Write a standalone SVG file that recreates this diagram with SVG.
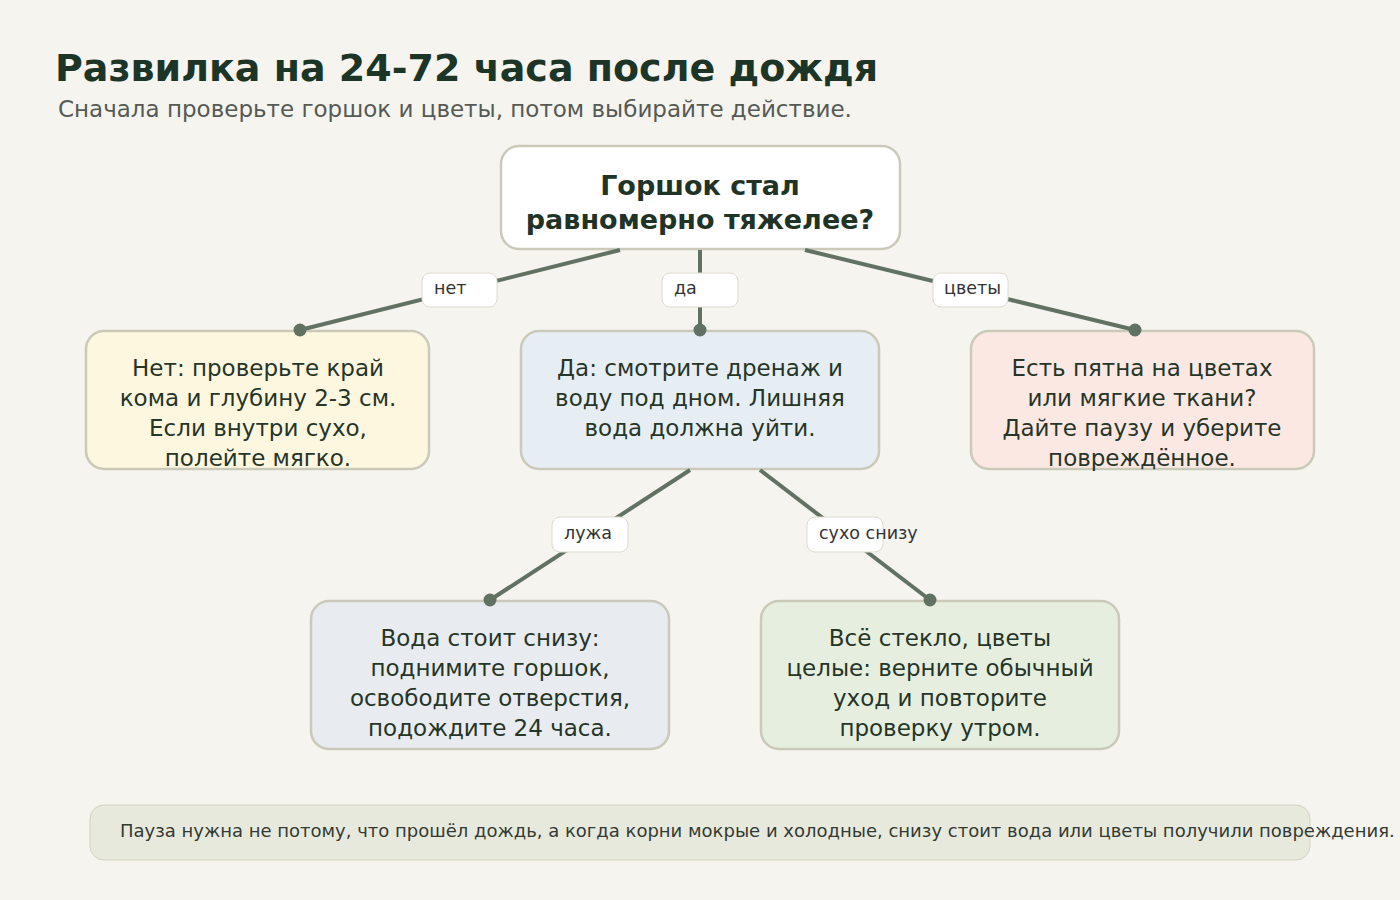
<svg xmlns="http://www.w3.org/2000/svg" width="1400" height="900" viewBox="0 0 1400 900">
<defs>
<style>
.bg{fill:#f5f4ee}
.title{font-family:"DejaVu Sans",sans-serif;font-weight:bold;font-size:38px;fill:#1c3527}
.sub{font-family:"DejaVu Sans",sans-serif;font-size:23px;fill:#555a55}
.node{stroke:#cbc9ba;stroke-width:2.5}
.nt{font-family:"DejaVu Sans",sans-serif;font-size:23px;fill:#253528;text-anchor:middle}
.rt{font-family:"DejaVu Sans",sans-serif;font-size:27px;font-weight:bold;fill:#1f3327;text-anchor:middle}
.edge{stroke:#627262;stroke-width:4;fill:none}
.dot{fill:#627262}
.lb{fill:#ffffff;stroke:#dedcd0;stroke-width:1}
.lt{font-family:"DejaVu Sans",sans-serif;font-size:17.5px;fill:#333}
.foot{fill:#e8e9dd;stroke:#d3d3c3;stroke-width:1}
.ft{font-family:"DejaVu Sans",sans-serif;font-size:18px;fill:#333a33}
</style>
</defs>
<rect class="bg" x="0" y="0" width="1400" height="900"/>
<text class="title" x="55" y="81">Развилка на 24-72 часа после дождя</text>
<text class="sub" x="58" y="117">Сначала проверьте горшок и цветы, потом выбирайте действие.</text>

<g id="root">
<rect class="node" x="501" y="146" width="399" height="103" rx="18" fill="#ffffff"/>
<text class="rt" x="700" y="195">Горшок стал</text>
<text class="rt" x="700" y="229">равномерно тяжелее?</text>
</g>

<g id="no">
<rect class="node" x="86" y="331" width="343" height="138" rx="18" fill="#fdf7df"/>
<text class="nt" x="258" y="376">Нет: проверьте край</text>
<text class="nt" x="258" y="406">кома и глубину 2-3 см.</text>
<text class="nt" x="258" y="436">Если внутри сухо,</text>
<text class="nt" x="258" y="466">полейте мягко.</text>
</g>

<g id="yes">
<rect class="node" x="521" y="331" width="358" height="138" rx="18" fill="#e6eef4"/>
<text class="nt" x="700" y="376">Да: смотрите дренаж и</text>
<text class="nt" x="700" y="406">воду под дном. Лишняя</text>
<text class="nt" x="700" y="436">вода должна уйти.</text>
</g>

<g id="flowers">
<rect class="node" x="971" y="331" width="343" height="138" rx="18" fill="#fce8e3"/>
<text class="nt" x="1142" y="376">Есть пятна на цветах</text>
<text class="nt" x="1142" y="406">или мягкие ткани?</text>
<text class="nt" x="1142" y="436">Дайте паузу и уберите</text>
<text class="nt" x="1142" y="466">повреждённое.</text>
</g>

<g id="puddle">
<rect class="node" x="311" y="601" width="358" height="148" rx="18" fill="#e8ebef"/>
<text class="nt" x="490" y="646">Вода стоит снизу:</text>
<text class="nt" x="490" y="676">поднимите горшок,</text>
<text class="nt" x="490" y="706">освободите отверстия,</text>
<text class="nt" x="490" y="736">подождите 24 часа.</text>
</g>

<g id="dry">
<rect class="node" x="761" y="601" width="358" height="148" rx="18" fill="#e6efdf"/>
<text class="nt" x="940" y="646">Всё стекло, цветы</text>
<text class="nt" x="940" y="676">целые: верните обычный</text>
<text class="nt" x="940" y="706">уход и повторите</text>
<text class="nt" x="940" y="736">проверку утром.</text>
</g>

<g id="connectors">
<line class="edge" x1="620" y1="250" x2="300" y2="330"/>
<line class="edge" x1="700" y1="250" x2="700" y2="330"/>
<line class="edge" x1="805" y1="250" x2="1135" y2="330"/>
<line class="edge" x1="690" y1="470" x2="490" y2="600"/>
<line class="edge" x1="760" y1="470" x2="930" y2="600"/>
<circle class="dot" cx="300" cy="330" r="6.5"/>
<circle class="dot" cx="700" cy="330" r="6.5"/>
<circle class="dot" cx="1135" cy="330" r="6.5"/>
<circle class="dot" cx="490" cy="600" r="6.5"/>
<circle class="dot" cx="930" cy="600" r="6.5"/>
<rect class="lb" x="422" y="273" width="75" height="34" rx="8"/>
<text class="lt" x="434" y="294">нет</text>
<rect class="lb" x="662" y="273" width="76" height="34" rx="8"/>
<text class="lt" x="674" y="294">да</text>
<rect class="lb" x="933" y="273" width="75" height="34" rx="8"/>
<text class="lt" x="944" y="294">цветы</text>
<rect class="lb" x="552" y="517" width="76" height="35" rx="8"/>
<text class="lt" x="564" y="539">лужа</text>
<rect class="lb" x="807" y="517" width="76" height="35" rx="8"/>
<text class="lt" x="819" y="539">сухо снизу</text>
</g>

<g id="footer">
<rect class="foot" x="90" y="805" width="1220" height="55" rx="14"/>
<text class="ft" x="120" y="837">Пауза нужна не потому, что прошёл дождь, а когда корни мокрые и холодные, снизу стоит вода или цветы получили повреждения.</text>
</g>
</svg>
